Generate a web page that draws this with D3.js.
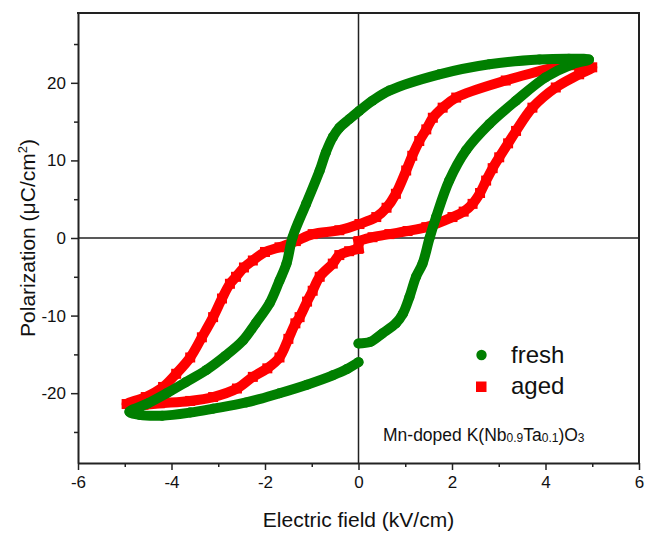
<!DOCTYPE html>
<html><head><meta charset="utf-8">
<script src="https://cdn.jsdelivr.net/npm/d3@7"></script>
<style>body{margin:0;background:#fff}svg{display:block}text{font-family:"Liberation Sans",Arial,sans-serif;fill:#111}</style>
</head><body><svg id="c" width="645" height="533"></svg>
<script>
// ---- data ----
const freshE = [0,0.25,0.51,0.8,0.95,1.09,1.23,1.37,1.52,1.66,1.94,2.3,2.8,3.37,4.0,4.57,4.93,
  4.5,3.87,2.8,1.73,0.66,0.3,0.02,-0.2,-0.41,-0.55,-0.7,-0.83,-1.12,-1.41,-1.54,-1.69,-1.9,-2.2,-2.47,-2.85,-3.25,-3.7,-4.1,-4.5,-4.9,
  -4.68,-4.2,-3.6,-3.11,-2.4,-1.69,-1.1,-0.55,-0.25,0];
const freshP = [-13.6,-13.4,-12.3,-11.0,-9.75,-7.6,-5.0,-3.3,0.0,2.7,7.4,11.3,14.7,17.7,20.7,22.4,23.0,
  23.1,23.0,22.4,21.1,19.0,17.7,16.4,15.3,14.2,13.0,11.0,8.7,4.4,0.1,-3.3,-5.5,-8.4,-11.0,-13.2,-15.2,-17.0,-18.6,-20.0,-21.3,-22.4,
  -22.8,-22.9,-22.5,-22.0,-21.2,-20.0,-18.9,-17.7,-16.9,-16.0];
const agedE = [0,0.3,0.66,1.05,1.45,2.01,2.25,2.44,2.6,2.73,2.87,3.01,3.2,3.37,3.72,4.22,4.72,5.0,
  4.7,4.22,3.15,2.09,1.8,1.59,1.45,1.3,1.15,1.02,0.8,0.6,0.38,0.02,-0.41,-0.98,-1.34,-1.69,-2.0,-2.26,-2.45,-2.62,-2.75,-2.92,-3.11,-3.35,-3.6,-3.9,-4.18,-4.55,-4.96,
  -4.6,-4.25,-3.6,-3.11,-2.6,-2.26,-1.95,-1.69,-1.5,-1.35,-1.26,-1.1,-0.98,-0.83,-0.55,-0.41,-0.2,0];
const agedP = [-0.4,0.1,0.5,0.9,1.4,2.7,3.4,4.4,5.8,7.4,9.0,10.4,12.2,13.8,16.8,19.4,21.1,22.0,
  22.3,22.0,20.3,18.1,16.8,15.5,14.0,12.5,10.6,8.7,5.7,3.9,2.7,1.8,1.0,0.5,-0.4,-1.2,-1.8,-2.9,-3.8,-5.0,-5.9,-7.8,-10.2,-12.8,-15.4,-17.5,-19.2,-20.5,-21.4,
  -21.5,-21.3,-21.0,-20.5,-19.4,-17.9,-16.8,-15.4,-13.0,-11.0,-10.2,-8.2,-6.8,-5.0,-3.3,-2.2,-1.7,-1.4];
const xTicks = [-6,-4,-2,0,2,4,6];
const xMinor = [-5,-3,-1,1,3,5];
const yTicks = [-20,-10,0,10,20];
const yMinor = [-25,-15,-5,5,15,25];
const seriesNames = ["fresh","aged"];
const seriesColors = ["#007f00","#ff0000"];

// ---- layout ----
const L = 78, R = 639, T = 13, B = 463;
const svg = d3.select("#c");
const x = d3.scaleLinear().domain([-6,6]).range([L,R]);
const y = d3.scaleLinear().domain([-29,29]).range([B,T]);

// frame top and right (filled bars)
svg.append("rect").attr("x",L-1).attr("y",T-1).attr("width",R-L+2).attr("height",2).attr("fill","#222");
svg.append("rect").attr("x",R-1).attr("y",T-1).attr("width",2).attr("height",B-T+2).attr("fill","#222");

// zero lines
svg.append("line").attr("x1",L).attr("x2",R).attr("y1",y(0)).attr("y2",y(0)).attr("stroke","#222").attr("stroke-width",1.5);
svg.append("line").attr("x1",x(0)).attr("x2",x(0)).attr("y1",T).attr("y2",B).attr("stroke","#222").attr("stroke-width",1.5);

function drawSeries(E,P,color,shape){
  const pts = E.map((e,i)=>[e,P[i]]);
  const line = d3.line().x(d=>x(d[0])).y(d=>y(d[1])).curve(d3.curveCatmullRom.alpha(0.5));
  const g = svg.append("g");
  g.append("path").attr("d",line(pts)).attr("fill","none").attr("stroke",color)
    .attr("stroke-width",10).attr("stroke-linejoin","round").attr("stroke-linecap",shape==="circle"?"round":"square");
  if(shape==="circle"){
    g.selectAll("circle.m").data(pts).join("circle").attr("class","m").attr("cx",d=>x(d[0])).attr("cy",d=>y(d[1])).attr("r",5).attr("fill",color);
  } else {
    g.selectAll("rect.m").data(pts).join("rect").attr("class","m").attr("x",d=>x(d[0])-5).attr("y",d=>y(d[1])-5).attr("width",10).attr("height",10).attr("fill",color);
  }
}
drawSeries(agedE,agedP,seriesColors[1],"square");
drawSeries(freshE,freshP,seriesColors[0],"circle");

// axes
const fmt = d => String(d);
const xAxis = d3.axisBottom(x).tickValues(xTicks).tickSize(7).tickSizeOuter(0).tickPadding(6).tickFormat(fmt);
svg.append("g").attr("transform",`translate(0,${B})`).call(xAxis);
const xm = d3.axisBottom(x).tickValues(xMinor).tickSize(4).tickSizeOuter(0).tickFormat("");
svg.append("g").attr("transform",`translate(0,${B})`).call(xm).select(".domain").remove();
const yAxis = d3.axisLeft(y).tickValues(yTicks).tickSize(7).tickSizeOuter(0).tickPadding(5).tickFormat(fmt);
svg.append("g").attr("transform",`translate(${L},0)`).call(yAxis);
const ym = d3.axisLeft(y).tickValues(yMinor).tickSize(4).tickSizeOuter(0).tickFormat("");
svg.append("g").attr("transform",`translate(${L},0)`).call(ym).select(".domain").remove();
svg.selectAll(".domain").attr("stroke","#222").attr("stroke-width",2);
svg.selectAll(".tick line").attr("stroke","#222").attr("stroke-width",1.5);
svg.selectAll(".tick text").attr("font-size",17).attr("font-family","Liberation Sans, Arial, sans-serif").attr("fill","#111");

// axis titles
svg.append("text").attr("x",(L+R)/2).attr("y",527).attr("text-anchor","middle").attr("font-size",21).text("Electric field (kV/cm)");
const yt = svg.append("text").attr("transform",`translate(35,${(T+B)/2}) rotate(-90)`).attr("text-anchor","middle").attr("font-size",21);
yt.append("tspan").text("Polarization (μC/cm");
yt.append("tspan").attr("font-size",13).attr("dy",-8).text("2");
yt.append("tspan").attr("dy",8).text(")");

// legend
svg.append("circle").attr("cx",481.5).attr("cy",355).attr("r",5.2).attr("fill",seriesColors[0]);
svg.append("rect").attr("x",476).attr("y",381.5).attr("width",10.5).attr("height",10.5).attr("fill",seriesColors[1]);
svg.append("text").attr("x",511).attr("y",363).attr("font-size",24).text(seriesNames[0]);
svg.append("text").attr("x",511).attr("y",394).attr("font-size",24).text(seriesNames[1]);

// annotation
const an = svg.append("text").attr("x",383).attr("y",441).attr("font-size",17.5);
an.append("tspan").text("Mn-doped K(Nb");
an.append("tspan").attr("font-size",12).attr("dy",1).text("0.9");
an.append("tspan").attr("dy",-1).text("Ta");
an.append("tspan").attr("font-size",12).attr("dy",1).text("0.1");
an.append("tspan").attr("dy",-1).text(")O");
an.append("tspan").attr("font-size",12).attr("dy",1).text("3");
</script></body></html>
